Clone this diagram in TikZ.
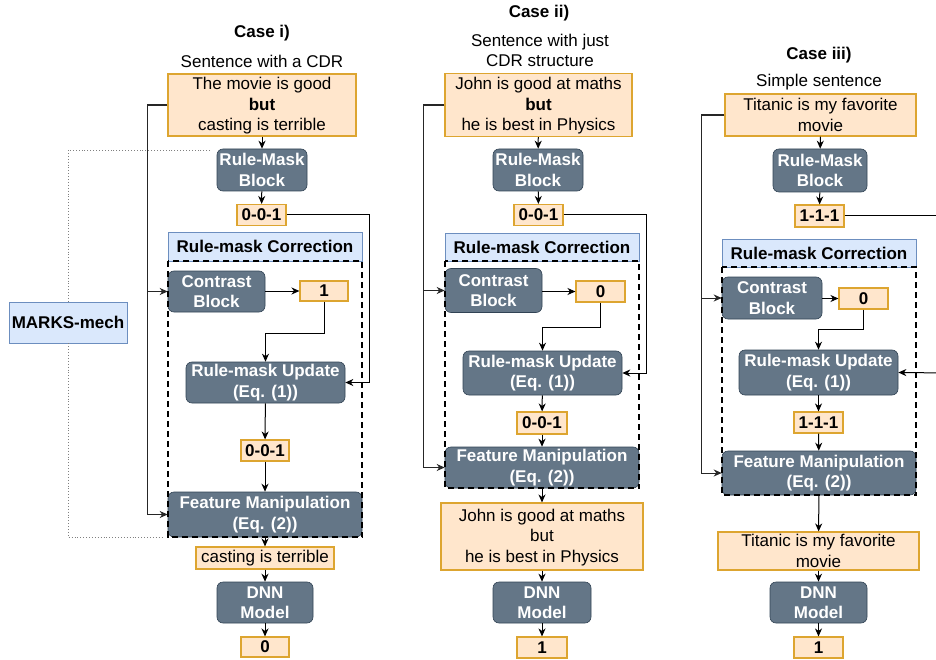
\documentclass[tikz,border=0pt]{standalone}
\usepackage{fontspec}
\setmainfont{Liberation Sans}
\usetikzlibrary{arrows.meta}
\usetikzlibrary{calc}

\definecolor{slate}{HTML}{647687}
\definecolor{slateline}{HTML}{314354}
\definecolor{peach}{HTML}{FFE6CC}
\definecolor{peachline}{HTML}{DDA530}
\definecolor{skyfill}{HTML}{DAE8FC}
\definecolor{skyline}{HTML}{6C8EBF}
\newcommand{\fsz}{\fontsize{17}{20.5}\selectfont}

\begin{document}
\begin{tikzpicture}[x=1pt,y=-1pt,font=\fsz,
   txt/.style={inner sep=0pt,align=center},
   sent/.style={draw=peachline,fill=peach,line width=1.1pt,inner sep=0pt,align=center},
   bits/.style={sent,font=\fsz\bfseries,minimum height=21pt},
   blk/.style={draw=slateline,fill=slate,line width=0.6pt,rounded corners=6pt,
     text=white,font=\fsz\bfseries,align=center,inner sep=0pt},
   corr/.style={draw=skyline,fill=skyfill,line width=0.8pt,font=\fsz\bfseries,inner sep=0pt},
   arr/.style={-{Stealth[length=8pt,width=7pt,inset=2.5pt]},line width=1pt},
   link/.style={line width=1.3pt,black!85},
   box/.style={line width=2pt,dash pattern=on 6pt off 4pt}]
\useasboundingbox (0,0) rectangle (936,660);

% Case i)
\coordinate (mt) at (210,150);
\coordinate (mb) at (162,537);
\node[corr,minimum width=118pt,minimum height=41pt] (mk) at (68,322.5) {MARKS-mech};
\draw[dotted,gray,line width=0.9pt] (mt) -| (mk.north);
\draw[dotted,gray,line width=0.9pt] (mk.south) |- (mb);

\node[txt,font=\fsz\bfseries] (t1) at (262,33) {Case i)};
\node[txt] (d1) at (262,61) {Sentence with a CDR};
\node[sent,minimum width=188pt,minimum height=62pt] (s1) at (262,105)
  {\strut The movie is good\\\textbf{but}\\casting is terrible};
\node[blk,minimum width=90pt,minimum height=42pt] (rm1) at (262,170) {Rule-Mask\\Block};
\node[bits,minimum width=49pt] (m1) at (261.5,215) {0-0-1};
\node[corr,minimum width=194pt,minimum height=29pt] (cor1) at (265,246.5) {Rule-mask Correction};
\node[blk,minimum width=97pt,minimum height=41pt] (cb1) at (216.5,291.5) {Contrast\\Block};
\node[bits,minimum width=48pt,minimum height=20pt] (c1) at (324,291) {1};
\node[blk,minimum width=159pt,minimum height=41pt] (ru1) at (265.5,382.5) {Rule-mask Update\\(Eq. (1))};
\node[bits,minimum width=48pt] (u1) at (265,450.5) {0-0-1};
\node[blk,minimum width=194pt,minimum height=45pt] (fm1) at (265,514.5) {Feature Manipulation\\(Eq. (2))};
\node[sent,minimum width=138pt,minimum height=22pt] (o1) at (265,558) {casting is terrible};
\node[blk,minimum width=96pt,minimum height=41pt] (dnn1) at (265,602.5) {DNN\\Model};
\node[bits,minimum width=48pt,minimum height=20pt] (y1) at (265,647) {0};

\draw[link] (s1.west) -- ++(-20,0) coordinate (l1);
\draw[link,arr] (l1) |- (cb1.west);
\draw[link,arr] (l1) |- (fm1.west);
\draw[arr] (s1) -- (rm1);
\draw[arr] (rm1) -- (m1);
\draw[arr] (m1.east) -- ++(83,0) |- (ru1.east);
\draw[arr] (cb1.east |- c1) -- (c1.west);
\draw[arr] (c1.south) -- ++(0,32) -| (ru1.north);
\draw[arr] (ru1) -- (u1);
\draw[arr] (u1) -- (fm1);
\draw[arr] (fm1) -- (o1);
\draw[arr] (o1) -- (dnn1);
\draw[arr] (dnn1) -- (y1);
\draw[box] (cor1.south west) rectangle (fm1.south east);

% Case ii)
\node[txt,font=\fsz\bfseries] (t2) at (539,13) {Case ii)};
\node[txt] (d2) at (540,50.5) {Sentence with just\\CDR structure};
\node[sent,minimum width=187pt,minimum height=63pt] (s2) at (538.5,105)
  {\strut John is good at maths\\\textbf{but}\\he is best in Physics};
\node[blk,minimum width=90pt,minimum height=42pt] (rm2) at (538,170) {Rule-Mask\\Block};
\node[bits,minimum width=49pt] (m2) at (538.5,215) {0-0-1};
\node[corr,minimum width=194pt,minimum height=28pt] (cor2) at (542,247) {Rule-mask Correction};
\node[blk,minimum width=97pt,minimum height=44pt] (cb2) at (493.5,290.5) {Contrast\\Block};
\node[bits,minimum width=49pt] (c2) at (600.5,291.5) {0};
\node[blk,minimum width=159pt,minimum height=44pt] (ru2) at (542.5,373) {Rule-mask Update\\(Eq. (1))};
\node[bits,minimum width=50pt,minimum height=22pt] (u2) at (542,423) {0-0-1};
\node[blk,minimum width=194pt,minimum height=41pt] (fm2) at (542,467.5) {Feature Manipulation\\(Eq. (2))};
\node[sent,minimum width=202pt,minimum height=67pt] (o2) at (542,536.5)
  {\strut John is good at maths\\but\\he is best in Physics};
\node[blk,minimum width=98pt,minimum height=41pt] (dnn2) at (542,602.5) {DNN\\Model};
\node[bits,minimum width=50pt] (y2) at (542,647.5) {1};

\draw[link] (s2.west) -- ++(-21,0) coordinate (l2);
\draw[link,arr] (l2) |- (cb2.west);
\draw[link,arr] (l2) |- (fm2.west);
\draw[arr] (s2) -- (rm2);
\draw[arr] (rm2) -- (m2);
\draw[arr] (m2.east) -- ++(83,0) |- (ru2.east);
\draw[arr] (cb2.east |- c2) -- (c2.west);
\draw[arr] (c2.south) -- ++(0,25) -| (ru2.north);
\draw[arr] (ru2) -- (u2);
\draw[arr] (u2) -- (fm2);
\draw[arr] (fm2) -- (o2);
\draw[arr] (o2) -- (dnn2);
\draw[arr] (dnn2) -- (y2);
\draw[box] (cor2.south west) rectangle (fm2.south east);

% Case iii)
\node[txt,font=\fsz\bfseries] (t3) at (819,55) {Case iii)};
\node[txt] (d3) at (819,82) {Simple sentence};
\node[sent,minimum width=191pt,minimum height=42pt] (s3) at (820.5,115)
  {Titanic is my favorite\\movie};
\node[blk,minimum width=94pt,minimum height=43pt] (rm3) at (820,170.5) {Rule-Mask\\Block};
\node[bits,minimum width=49pt,minimum height=22pt] (m3) at (819.5,216) {1-1-1};
\node[corr,minimum width=194pt,minimum height=28pt] (cor3) at (819,253) {Rule-mask Correction};
\node[blk,minimum width=100pt,minimum height=42pt] (cb3) at (772,298) {Contrast\\Block};
\node[bits,minimum width=49pt] (c3) at (863.5,298.5) {0};
\node[blk,minimum width=159pt,minimum height=45pt] (ru3) at (818.5,372.5) {Rule-mask Update\\(Eq. (1))};
\node[bits,minimum width=49pt] (u3) at (818.5,422.5) {1-1-1};
\node[blk,minimum width=194pt,minimum height=44pt] (fm3) at (819,473) {Feature Manipulation\\(Eq. (2))};
\node[sent,minimum width=201pt,minimum height=38pt] (o3) at (818.5,551) {Titanic is my favorite\\movie};
\node[blk,minimum width=97pt,minimum height=41pt] (dnn3) at (818.5,602.5) {DNN\\Model};
\node[bits,minimum width=49pt] (y3) at (818.5,647.5) {1};

\coordinate (e3) at (950,216);
\coordinate (f3) at (950,373);
\draw[link] (s3.west) -- ++(-23,0) coordinate (l3);
\draw[link,arr] (l3) |- (cb3.west);
\draw[link,arr] (l3) |- (fm3.west);
\draw[arr] (s3) -- (rm3);
\draw[arr] (rm3) -- (m3);
\draw[line width=1pt] (m3.east) -- (e3);
\draw[arr] (f3) -- (ru3.east);
\draw[arr] (cb3.east |- c3) -- (c3.west);
\draw[arr] (c3.south) -- ++(0,20) -| (ru3.north);
\draw[arr] (ru3) -- (u3);
\draw[arr] (u3) -- (fm3);
\draw[arr] (fm3) -- (o3);
\draw[arr] (o3) -- (dnn3);
\draw[arr] (dnn3) -- (y3);
\draw[box] (cor3.south west) rectangle (fm3.south east);
\end{tikzpicture}
\end{document}
